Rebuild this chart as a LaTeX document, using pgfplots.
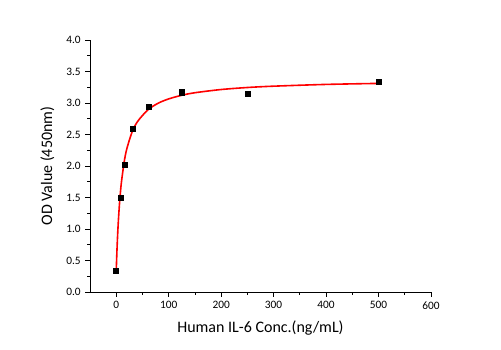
\documentclass[border=0pt]{standalone}
\usepackage{pgfplots}
\pgfplotsset{compat=1.18}
\usepackage{fontspec}
\setmainfont{Carlito}
\begin{document}
\begin{tikzpicture}
\begin{axis}[
  scale only axis,
  width=255.75pt, height=189pt,
  xmin=-50, xmax=600, ymin=0, ymax=4,
  axis x line*=bottom, axis y line*=left,
  axis line style={black, line width=0.6pt},
  tick align=outside,
  major tick length=3.5pt, minor tick length=2pt,
  tick style={black, line width=0.6pt},
  xtick={0,100,...,600}, ytick={0,0.5,...,4},
  minor x tick num=1, minor y tick num=1,
  yticklabel style={/pgf/number format/.cd, fixed, fixed zerofill, precision=1},
  /pgf/number format/assume math mode=true,
  ticklabel style={font=\fontsize{8.5}{9}\selectfont},
  xlabel={Human IL-6 Conc.(ng/mL)},
  ylabel={OD Value (450nm)},
  label style={font=\fontsize{12}{14}\selectfont},
  xlabel style={yshift=-2pt},
  ylabel style={yshift=2pt},
  clip=false,
]
\addplot[red, line width=1.2pt, smooth, tension=0.5] coordinates {
(0,0.33) (1,0.574) (2,0.782) (3,0.961) (4,1.117) (6,1.376) (8,1.581) (10,1.749)
(15,2.056) (20,2.267) (30,2.535) (40,2.699) (60,2.889) (80,2.997) (100,3.065)
(125,3.123) (150,3.163) (200,3.214) (250,3.246) (300,3.267) (400,3.295) (500,3.311)
};
\addplot[only marks, mark=square*, mark size=1.9pt, black] coordinates {
(0,0.33) (7.8,1.5) (15.6,2.02) (31.25,2.59) (62.5,2.94) (125,3.17) (250,3.15) (500,3.33)
};
\path (rel axis cs:0,0) coordinate (O);
\end{axis}
\path ([shift={(-67.5pt,-43.5pt)}]O) rectangle ++(375.75pt,262.5pt);
\end{tikzpicture}
\end{document}
